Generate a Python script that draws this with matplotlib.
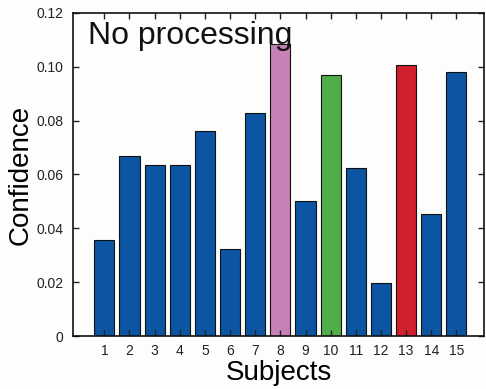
import matplotlib
matplotlib.use("Agg")
import matplotlib.pyplot as plt

subjects = list(range(1, 16))
confidence = [0.0358, 0.0668, 0.0634, 0.0634, 0.0760, 0.0322, 0.0830, 0.1086,
              0.0502, 0.0968, 0.0623, 0.0198, 0.1005, 0.0452, 0.0982]
bar_colors = ['#0b55a3'] * 15
bar_colors[7] = '#c682b6'   # subject 8
bar_colors[9] = '#4fae48'   # subject 10
bar_colors[12] = '#d11f2b'  # subject 13

yticks = [0, 0.02, 0.04, 0.06, 0.08, 0.10, 0.12]
ytick_labels = ['0', '0.02', '0.04', '0.06', '0.08', '0.10', '0.12']

plt.rcParams['font.family'] = ['Liberation Sans', 'DejaVu Sans']

bg = '#fdfdfb'
fig = plt.figure(figsize=(4.86, 3.89), dpi=100, facecolor=bg)
ax = fig.add_axes([0.150, 0.136, 0.846, 0.831], facecolor=bg)

ax.bar(subjects, confidence, width=0.8, color=bar_colors,
       edgecolor='#111111', linewidth=0.8)

ax.set_xlim(-0.25, 16.1)
ax.set_ylim(0, 0.12)
ax.set_xticks(subjects)
ax.set_yticks(yticks)
ax.set_yticklabels(ytick_labels)

ax.tick_params(direction='in', length=4, width=1.0, labelsize=10,
               top=True, right=True, colors='#222222')
ax.tick_params(axis='y', pad=7)
ax.tick_params(axis='x', pad=6)
for s in ax.spines.values():
    s.set_linewidth(1.2)
    s.set_color('#111111')

ax.set_xlabel('Subjects', fontsize=20, labelpad=1)
ax.set_ylabel('Confidence', fontsize=20, labelpad=2)

ax.text(0.036, 0.975, 'No processing', transform=ax.transAxes,
        fontsize=23, ha='left', va='top', color='#111111')

fig.savefig('out.png', dpi=100, facecolor=fig.get_facecolor())
